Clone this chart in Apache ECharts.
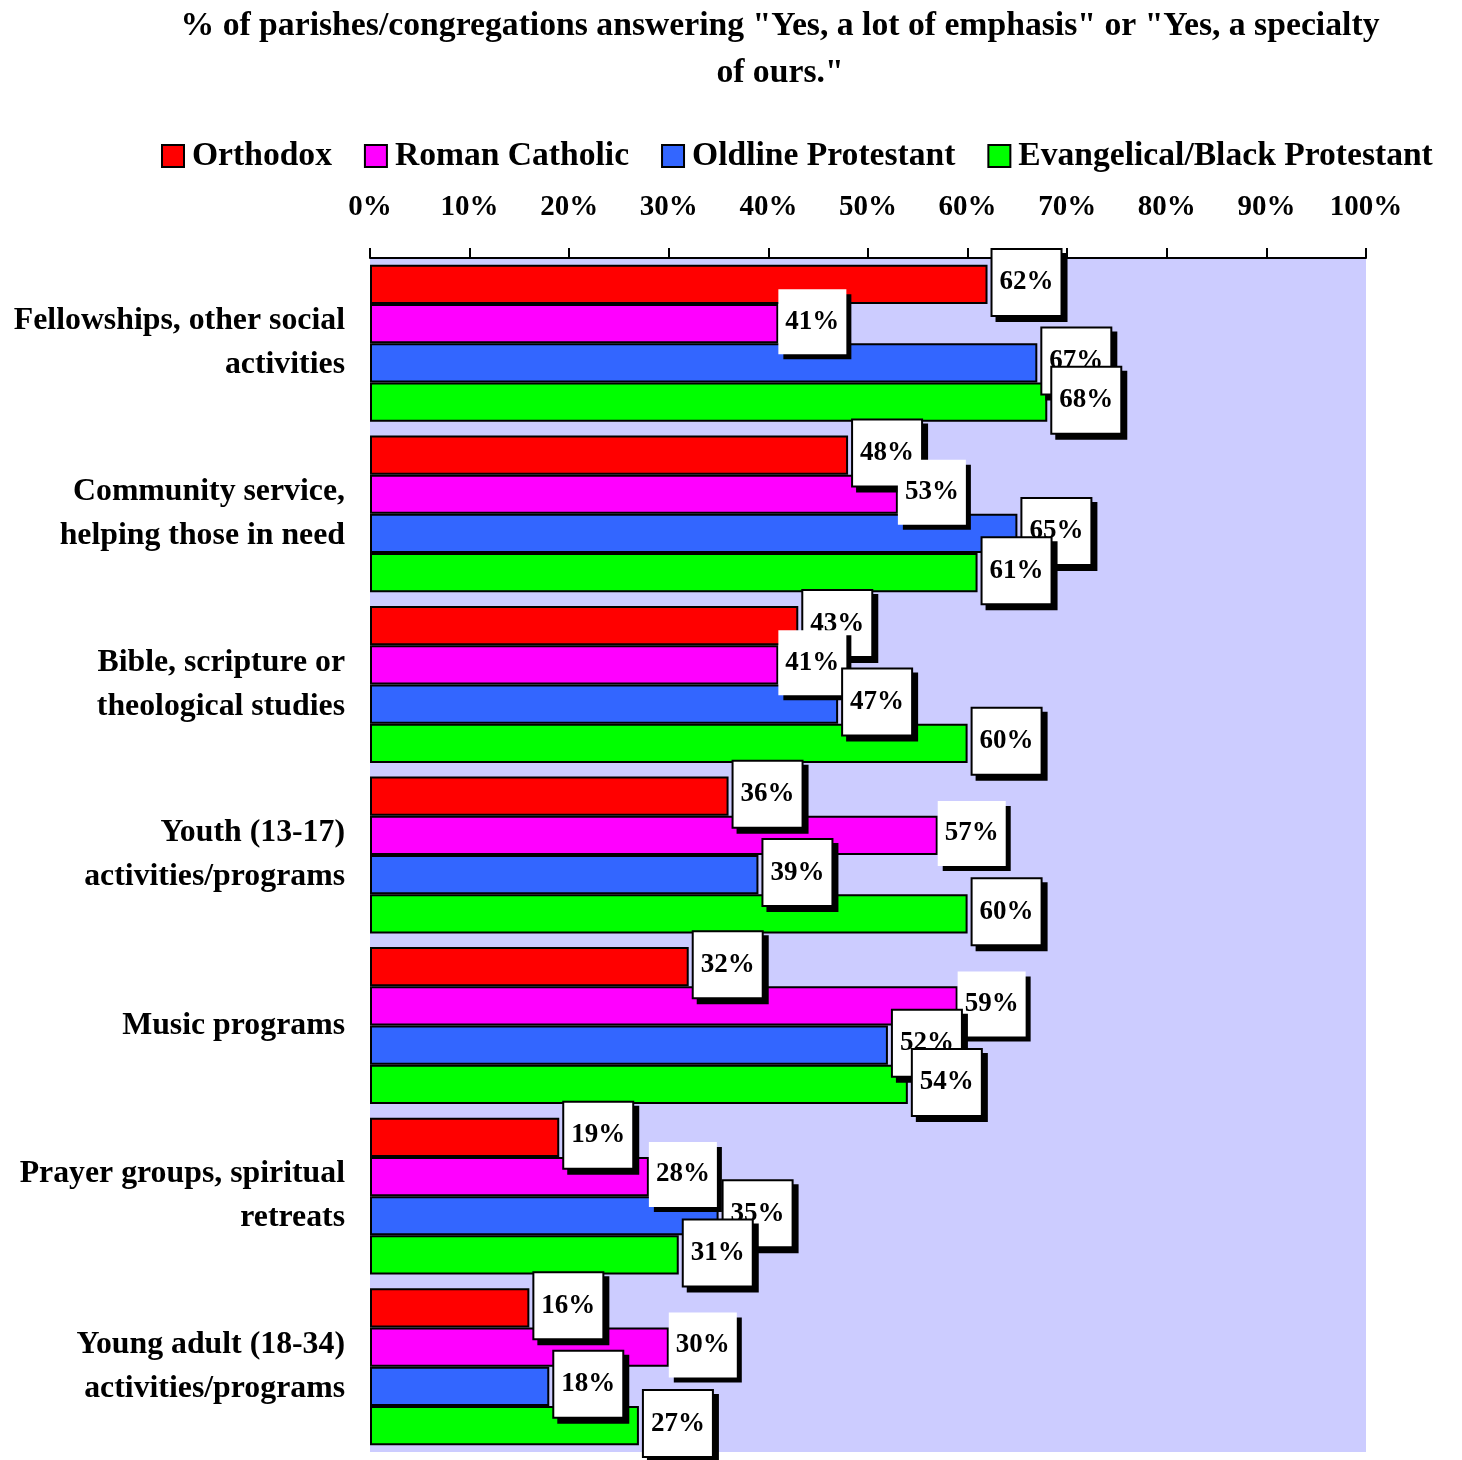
<!DOCTYPE html>
<html>
<head>
<meta charset="utf-8">
<script src="https://cdn.jsdelivr.net/npm/echarts@6/dist/echarts.min.js"></script>
<style>
  html, body { margin: 0; padding: 0; background: #fff; }
  #chart { width: 1462px; height: 1460px; }
</style>
</head>
<body>
<div id="chart"></div>
<script>
// Ministry emphasis by tradition
const titleText = '% of parishes/congregations answering "Yes, a lot of emphasis" or "Yes, a specialty\nof ours."';
const categories = [
  'Fellowships, other social\nactivities',
  'Community service,\nhelping those in need',
  'Bible, scripture or\ntheological studies',
  'Youth (13-17)\nactivities/programs',
  'Music programs',
  'Prayer groups, spiritual\nretreats',
  'Young adult (18-34)\nactivities/programs'
];
const seriesNames = ['Orthodox', 'Roman Catholic', 'Oldline Protestant', 'Evangelical/Black Protestant'];
const orthodox      = [62, 48, 43, 36, 32, 19, 16];
const romanCatholic = [41, 53, 41, 57, 59, 28, 30];
const oldline       = [67, 65, 47, 39, 52, 35, 18];
const evangelical   = [68, 61, 60, 60, 54, 31, 27];
const xTicks = { min: 0, max: 100, interval: 10 };

const FONT = '"Liberation Serif", "DejaVu Serif", serif';
const colors = ['#FF0000', '#FF00FF', '#3366FF', '#00FF00'];
const values = [orthodox, romanCatholic, oldline, evangelical];

function makeSeries(i) {
  const plain = i === 1; // Roman Catholic value boxes have no outline
  return {
    name: seriesNames[i],
    type: 'bar',
    data: values[i],
    barGap: '0%',
    barCategoryGap: '8%',
    itemStyle: { color: colors[i], borderColor: '#000', borderWidth: 2 },
    label: {
      show: true,
      position: 'right',
      distance: plain ? 0 : 5,
      offset: [0, -2],
      formatter: '{c}%',
      fontFamily: FONT,
      fontWeight: 'bold',
      fontSize: 27,
      color: '#000',
      backgroundColor: '#fff',
      borderColor: '#000',
      borderWidth: plain ? 0 : 2,
      padding: [20, 7, 18, 7],
      shadowColor: '#000',
      shadowBlur: 0,
      shadowOffsetX: 5,
      shadowOffsetY: 5
    },
    emphasis: { disabled: true }
  };
}

const chart = echarts.init(document.getElementById('chart'), null, { renderer: 'canvas' });
chart.setOption({
  animation: false,
  title: {
    text: titleText,
    left: 775,
    top: -2,
    textAlign: 'center',
    textStyle: { fontFamily: FONT, fontWeight: 'bold', fontSize: 33.7, lineHeight: 47, color: '#000' }
  },
  legend: {
    data: seriesNames,
    top: 134,
    left: 156,
    icon: 'rect',
    itemWidth: 22,
    itemHeight: 22,
    itemGap: 32,
    textStyle: { fontFamily: FONT, fontWeight: 'bold', fontSize: 33.6, color: '#000', padding: [0, 0, 0, 3] }
  },
  grid: {
    left: 370, right: 96, top: 258, bottom: 8,
    show: true, backgroundColor: '#CCCCFF', borderWidth: 0,
    containLabel: false
  },
  xAxis: {
    type: 'value',
    position: 'top',
    min: xTicks.min, max: xTicks.max, interval: xTicks.interval,
    axisLine: { show: true, lineStyle: { color: '#000', width: 2 } },
    axisTick: { show: true, length: 10, lineStyle: { color: '#000', width: 2 } },
    splitLine: { show: false },
    axisLabel: {
      formatter: '{value}%', margin: 36,
      fontFamily: FONT, fontWeight: 'bold', fontSize: 29, color: '#000'
    }
  },
  yAxis: {
    type: 'category',
    data: categories,
    inverse: true,
    axisLine: { show: false },
    axisTick: { show: false },
    splitLine: { show: false },
    axisLabel: {
      margin: 25, align: 'right',
      fontFamily: FONT, fontWeight: 'bold', fontSize: 31.8, lineHeight: 44, color: '#000'
    }
  },
  series: [0, 1, 2, 3].map(makeSeries)
});
</script>
</body>
</html>
